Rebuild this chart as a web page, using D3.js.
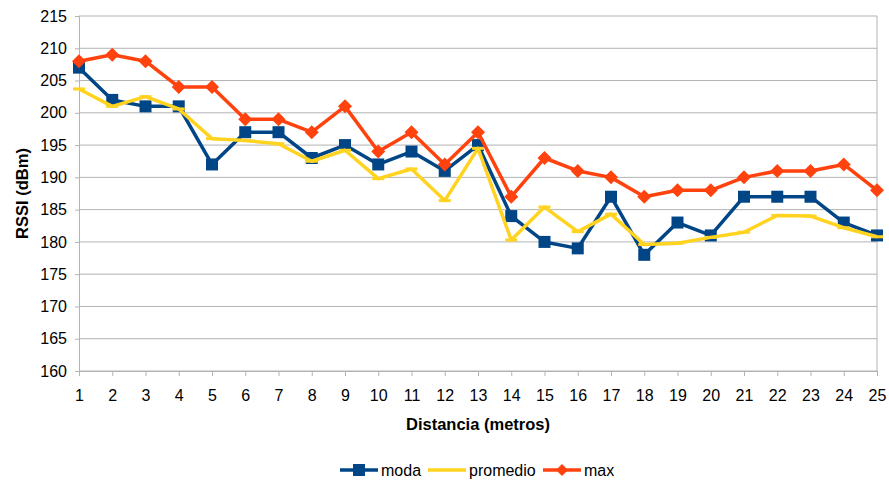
<!DOCTYPE html>
<html>
<head>
<meta charset="utf-8">
<script src="https://cdn.jsdelivr.net/npm/d3@7"></script>
<style>
  body { margin: 0; background: #fff; }
  text { font-family: "Liberation Sans", Arial, sans-serif; fill: #000; }
</style>
</head>
<body>
<svg id="chart" width="889" height="480"></svg>
<script>
// Chart data
var distancias = d3.range(1, 26);
var moda = [207, 202, 201, 201, 192, 197, 197, 193, 195, 192, 194, 191, 195, 184, 180, 179, 187, 178, 183, 181, 187, 187, 187, 183, 181];
var promedio = [203.7, 201, 202.5, 200.6, 196, 195.7, 195.2, 192.5, 194.2, 189.8, 191.3, 186.4, 194.5, 180.3, 185.4, 181.6, 184.3, 179.6, 179.8, 180.7, 181.5, 184.1, 184, 182.2, 180.8];
var maxv = [208, 209, 208, 204, 204, 199, 199, 197, 201, 194, 197, 192, 197, 187, 193, 191, 190, 187, 188, 188, 190, 191, 191, 192, 188];
var yTicks = d3.range(160, 216, 5);

var svg = d3.select("#chart");
var plotLeft = 79, plotRight = 877, plotTop = 16, plotBottom = 371;

var x = d3.scaleLinear().domain([1, 25]).range([plotLeft, plotRight]);
var y = d3.scaleLinear().domain([160, 215]).range([plotBottom, plotTop]);

// Grid lines
svg.append("g")
  .selectAll("line")
  .data(yTicks)
  .enter()
  .append("line")
  .attr("x1", plotLeft).attr("x2", plotRight)
  .attr("y1", d => y(d)).attr("y2", d => y(d))
  .attr("stroke", "#b3b3b3").attr("stroke-width", 1);

// Right border
svg.append("line")
  .attr("x1", plotRight).attr("x2", plotRight).attr("y1", plotTop).attr("y2", plotBottom)
  .attr("stroke", "#b3b3b3");

// Y axis
var yAxis = svg.append("g")
  .attr("transform", "translate(" + plotLeft + ",0)")
  .call(d3.axisLeft(y).tickValues(yTicks).tickSize(4).tickPadding(8));
yAxis.select(".domain").attr("stroke", "#b3b3b3");
yAxis.selectAll(".tick line").attr("stroke", "#b3b3b3");
yAxis.selectAll("text").style("font-size", "16px").style("font-family", "Liberation Sans, Arial, sans-serif");

// X axis
var xAxis = svg.append("g")
  .attr("transform", "translate(0," + plotBottom + ")")
  .call(d3.axisBottom(x).tickValues(distancias).tickFormat(d3.format("d")).tickSize(5).tickPadding(14));
xAxis.select(".domain").attr("stroke", "#b3b3b3");
xAxis.selectAll(".tick line").attr("stroke", "#b3b3b3");
xAxis.selectAll("text").style("font-size", "16px").style("font-family", "Liberation Sans, Arial, sans-serif");

// Axis titles
svg.append("text")
  .attr("x", (plotLeft + plotRight) / 2).attr("y", 430)
  .attr("text-anchor", "middle")
  .style("font-size", "16.5px").style("font-weight", "bold")
  .text("Distancia (metros)");

svg.append("text")
  .attr("transform", "translate(28," + ((plotTop + plotBottom) / 2) + ") rotate(-90)")
  .attr("text-anchor", "middle")
  .style("font-size", "16.5px").style("font-weight", "bold")
  .text("RSSI (dBm)");

// Series
var series = [
  { name: "moda", values: moda, color: "#004586", marker: "square" },
  { name: "promedio", values: promedio, color: "#ffd320", marker: "none" },
  { name: "max", values: maxv, color: "#ff420e", marker: "diamond" }
];

var line = d3.line()
  .x((d, i) => x(distancias[i]))
  .y(d => y(d));

function drawMarker(g, type, color) {
  if (type === "square") {
    g.append("rect").attr("x", -6).attr("y", -6).attr("width", 12).attr("height", 12).attr("fill", color);
  } else if (type === "diamond") {
    g.append("path").attr("d", "M0,-7L7,0L0,7L-7,0Z").attr("fill", color);
  } else {
    g.append("line").attr("x1", -6).attr("x2", 6).attr("stroke", color).attr("stroke-width", 3);
  }
}

series.forEach(function(s) {
  svg.append("path")
    .datum(s.values)
    .attr("d", line)
    .attr("fill", "none")
    .attr("stroke", s.color)
    .attr("stroke-width", 3.5)
    .attr("stroke-linejoin", "round");
  svg.append("g")
    .selectAll("g")
    .data(s.values)
    .enter()
    .append("g")
    .attr("transform", (d, i) => "translate(" + x(distancias[i]) + "," + y(d) + ")")
    .each(function() { drawMarker(d3.select(this), s.marker, s.color); });
});

// Legend
var legendX = [340, 428, 543];
series.forEach(function(s, i) {
  var g = svg.append("g").attr("transform", "translate(" + legendX[i] + ",470)");
  g.append("line").attr("x1", 0).attr("x2", 38).attr("y1", 0).attr("y2", 0)
    .attr("stroke", s.color).attr("stroke-width", 3.5);
  if (s.marker === "square") {
    g.append("rect").attr("x", 13).attr("y", -6).attr("width", 12).attr("height", 12).attr("fill", s.color);
  } else if (s.marker === "diamond") {
    g.append("path").attr("d", "M19,-6L25,0L19,6L13,0Z").attr("fill", s.color);
  }
  g.append("text").attr("x", 41).attr("y", 6).style("font-size", "16px").text(s.name);
});
</script>
</body>
</html>
